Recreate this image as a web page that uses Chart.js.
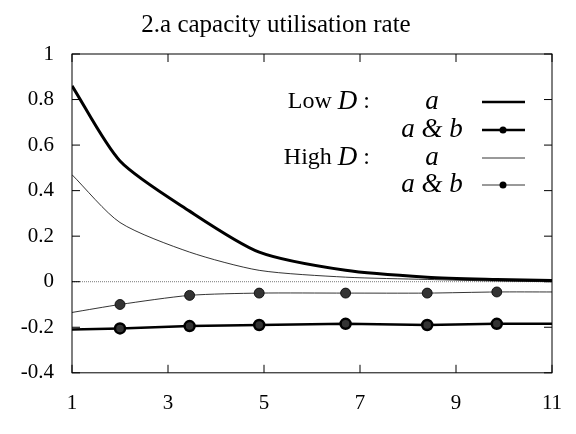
<!DOCTYPE html>
<html>
<head>
<meta charset="utf-8">
<script src="https://cdn.jsdelivr.net/npm/chart.js@4.4.0/dist/chart.umd.min.js"></script>
<style>
  body { margin: 0; background: #fff; }
  #wrap { width: 576px; height: 434px; }
</style>
</head>
<body>
<div id="wrap"><canvas id="chart"></canvas></div>
<script>
// x positions of the plotted points
const xs = [1, 2, 3.45, 4.9, 6.7, 8.4, 9.85, 11];
// series values
const lowA = [0.86, 0.53, 0.31, 0.13, 0.05, 0.02, 0.01, 0.005];
const lowAB = [-0.21, -0.205, -0.195, -0.19, -0.185, -0.19, -0.185, -0.185];
const highA = [0.47, 0.26, 0.13, 0.05, 0.02, 0.01, 0.003, 0.0];
const highAB = [-0.135, -0.1, -0.06, -0.05, -0.05, -0.05, -0.045, -0.045];
const zeroLine = [0, 0, 0, 0, 0, 0, 0, 0];
const xTicks = [1, 3, 5, 7, 9, 11];
const serif = "'Liberation Serif', 'DejaVu Serif', serif";

function pts(vals) {
  return vals.map((v, i) => ({ x: xs[i], y: v }));
}

// Draws inward ticks on all four sides, plus the legend, like gnuplot
const framePlugin = {
  id: 'frame',
  afterDraw(chart) {
    const ctx = chart.ctx;
    const a = chart.chartArea;
    const xs_ = chart.scales.x, ys_ = chart.scales.y;
    ctx.save();
    ctx.strokeStyle = '#000';
    ctx.lineWidth = 1;
    ctx.strokeRect(a.left, a.top, a.right - a.left, a.bottom - a.top);
    ctx.beginPath();
    xTicks.forEach((t) => {
      const px = xs_.getPixelForValue(t);
      ctx.moveTo(px, a.bottom); ctx.lineTo(px, a.bottom - 8);
      ctx.moveTo(px, a.top); ctx.lineTo(px, a.top + 8);
    });
    for (let v = -0.4; v <= 1.001; v += 0.2) {
      const py = ys_.getPixelForValue(v);
      ctx.moveTo(a.left, py); ctx.lineTo(a.left + 8, py);
      ctx.moveTo(a.right, py); ctx.lineTo(a.right - 8, py);
    }
    ctx.stroke();

    // legend
    const rows = [
      { label: 'Low ', y: 102, key: 'a', w: 2.5, marker: false },
      { label: '', y: 130, key: 'a & b', w: 2.5, marker: true },
      { label: 'High ', y: 158, key: 'a', w: 0.8, marker: false },
      { label: '', y: 185, key: 'a & b', w: 0.8, marker: true },
    ];
    ctx.fillStyle = '#000';
    ctx.textBaseline = 'middle';
    rows.forEach((r) => {
      if (r.label) {
        ctx.font = 'italic 27px ' + serif;
        const dW = ctx.measureText('D').width;
        ctx.font = '24px ' + serif;
        const tail = ' :';
        const tailW = ctx.measureText(tail).width;
        ctx.textAlign = 'right';
        ctx.fillText(tail, 370, r.y);
        ctx.font = 'italic 27px ' + serif;
        ctx.fillText('D', 370 - tailW, r.y);
        ctx.font = '24px ' + serif;
        ctx.fillText(r.label, 370 - tailW - dW, r.y);
      }
      ctx.font = 'italic 27px ' + serif;
      ctx.textAlign = 'center';
      ctx.fillText(r.key, 432, r.y);
      ctx.lineWidth = r.w;
      ctx.beginPath();
      ctx.moveTo(482, r.y); ctx.lineTo(525, r.y);
      ctx.stroke();
      if (r.marker) {
        ctx.beginPath();
        ctx.arc(503, r.y, 3.5, 0, Math.PI * 2);
        ctx.fill();
      }
    });
    ctx.restore();
  }
};

const datasets = [
  { data: pts(lowA), borderColor: '#000', borderWidth: 3, pointRadius: 0, tension: 0.25 },
  { data: pts(lowAB), borderColor: '#000', borderWidth: 2.5, pointRadius: [0, 5, 5, 5, 5, 5, 5, 0],
    pointBackgroundColor: '#333', pointBorderColor: '#000' },
  { data: pts(highA), borderColor: '#000', borderWidth: 0.8, pointRadius: 0, tension: 0.25 },
  { data: pts(highAB), borderColor: '#000', borderWidth: 0.8, pointRadius: [0, 5, 5, 5, 5, 5, 5, 0],
    pointBackgroundColor: '#333', pointBorderColor: '#000', tension: 0.25 },
  { data: pts(zeroLine), borderColor: '#555', borderWidth: 0.8, pointRadius: 0, borderDash: [1, 1] },
];

new Chart(document.getElementById('chart'), {
  type: 'line',
  data: { datasets: datasets },
  options: {
    responsive: true,
    maintainAspectRatio: false,
    animation: false,
    layout: { padding: { left: 0, right: 24, top: 0, bottom: 8 } },
    plugins: {
      legend: { display: false },
      tooltip: { enabled: false },
      title: {
        display: true,
        text: '2.a capacity utilisation rate',
        color: '#000',
        font: { family: serif, size: 25, weight: 'normal' },
        padding: { top: 10, bottom: 14 }
      }
    },
    scales: {
      x: {
        type: 'linear', min: 1, max: 11,
        afterBuildTicks: (s) => { s.ticks = xTicks.map((v) => ({ value: v })); },
        grid: { display: false },
        border: { display: false },
        ticks: { color: '#000', font: { family: serif, size: 21 }, padding: 10 }
      },
      y: {
        min: -0.4, max: 1,
        grid: { display: false },
        border: { display: false },
        afterFit: (s) => { s.width = 72; },
        ticks: { stepSize: 0.2, color: '#000', font: { family: serif, size: 21 }, padding: 10,
          callback: (v) => Math.round(v * 10) / 10 }
      }
    }
  },
  plugins: [framePlugin]
});
</script>
</body>
</html>
